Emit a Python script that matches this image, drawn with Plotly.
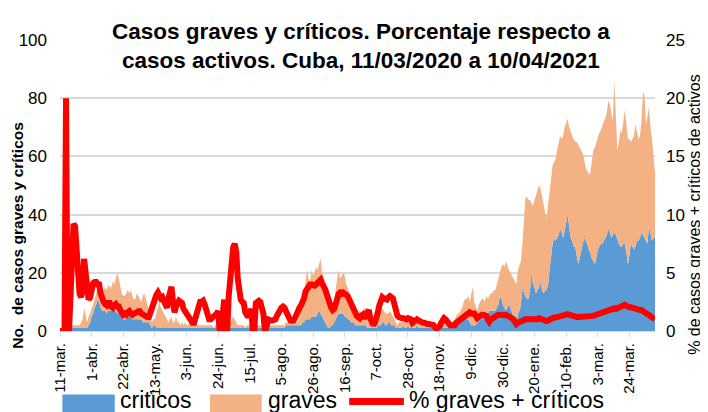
import pandas as pd
import plotly.graph_objects as go

# ---------------- data ----------------
start_date = "2020-03-11"
n_days = 396

criticos = [
    0, 0, 0, 0, 0, 0, 0, 0, 1, 1,
    1, 1, 1, 1, 1, 1, 1, 1, 1, 2,
    3, 5, 6, 8, 9, 11, 10, 8, 7, 7,
    7, 6, 7, 7, 7, 7, 7, 7, 6, 7,
    6, 5, 4, 4, 4, 5, 5, 5, 4, 4,
    4, 4, 4, 4, 4, 3, 3, 3, 3, 3,
    2, 1, 2, 2, 1, 1, 1, 1, 1, 1,
    1, 1, 1, 1, 1, 1, 1, 1, 1, 1,
    1, 1, 1, 1, 1, 1, 1, 1, 1, 1,
    1, 1, 1, 1, 1, 1, 1, 1, 1, 1,
    1, 1, 1, 1, 1, 1, 1, 1, 1, 1,
    1, 1, 1, 1, 1, 1, 1, 1, 1, 1,
    1, 1, 1, 1, 1, 1, 1, 1, 1, 1,
    1, 1, 1, 1, 1, 1, 1, 1, 1, 1,
    1, 1, 1, 1, 1, 1, 1, 1, 1, 1,
    2, 2, 2, 2, 2, 2, 2, 2, 2, 2,
    2, 3, 3, 4, 4, 4, 4, 5, 5, 5,
    5, 6, 7, 6, 5, 4, 3, 2, 1, 1,
    2, 2, 3, 4, 5, 6, 6, 6, 6, 5,
    5, 4, 4, 3, 3, 3, 2, 2, 2, 2,
    2, 2, 2, 2, 1, 1, 1, 1, 1, 1,
    1, 2, 2, 2, 3, 3, 2, 2, 3, 3,
    2, 2, 2, 1, 1, 1, 1, 1, 2, 1,
    1, 2, 1, 1, 1, 1, 1, 2, 1, 1,
    1, 1, 1, 1, 1, 1, 1, 1, 1, 1,
    1, 1, 1, 1, 1, 1, 1, 1, 1, 1,
    1, 1, 2, 2, 2, 3, 3, 4, 5, 5,
    4, 4, 3, 2, 2, 2, 2, 3, 3, 4,
    4, 5, 6, 6, 6, 7, 7, 7, 7, 7,
    8, 9, 12, 11, 9, 8, 7, 8, 9, 8,
    6, 5, 4, 3, 6, 7, 9, 15, 13, 12,
    11, 11, 14, 20, 16, 15, 13, 14, 15, 17,
    14, 13, 14, 14, 16, 21, 25, 30, 32, 31,
    32, 33, 35, 34, 32, 34, 37, 40, 36, 32,
    31, 29, 29, 26, 23, 25, 28, 30, 32, 31,
    30, 28, 27, 25, 24, 23, 25, 28, 29, 30,
    30, 31, 32, 33, 35, 34, 32, 33, 34, 33,
    31, 30, 29, 29, 30, 30, 27, 23, 26, 30,
    29, 28, 29, 31, 31, 32, 34, 33, 32, 31,
    30, 36, 33, 31, 32, 32,
]

graves = [
    0, 0, 0, 1, 1, 0, 0, 0, 1, 1,
    1, 1, 1, 1, 2, 3, 7, 4, 2, 3,
    3, 3, 3, 3, 4, 4, 3, 4, 6, 7,
    8, 8, 9, 8, 8, 10, 9, 11, 14, 11,
    9, 8, 8, 8, 9, 9, 8, 9, 8, 7,
    7, 9, 8, 7, 6, 9, 10, 8, 6, 4,
    3, 2, 2, 2, 5, 7, 9, 7, 6, 5,
    4, 3, 2, 3, 4, 2, 2, 4, 2, 2,
    1, 2, 1, 2, 1, 1, 2, 3, 2, 1,
    2, 1, 1, 1, 1, 1, 1, 1, 1, 1,
    1, 1, 0, 1, 1, 1, 1, 1, 1, 1,
    1, 1, 1, 2, 3, 4, 3, 2, 1, 1,
    1, 1, 1, 0, 1, 1, 1, 1, 1, 1,
    1, 1, 1, 1, 0, 1, 1, 1, 1, 1,
    1, 1, 1, 1, 1, 1, 1, 1, 1, 1,
    1, 1, 1, 1, 1, 1, 1, 1, 1, 3,
    5, 7, 10, 13, 17, 14, 13, 16, 14, 15,
    17, 15, 16, 19, 15, 15, 11, 9, 8, 7,
    5, 5, 7, 10, 13, 15, 12, 13, 14, 14,
    11, 11, 9, 9, 7, 5, 5, 5, 4, 5,
    4, 5, 6, 5, 4, 3, 2, 1, 1, 2,
    3, 3, 4, 5, 5, 4, 4, 4, 3, 4,
    4, 3, 2, 2, 1, 2, 2, 2, 1, 3,
    2, 1, 3, 2, 2, 2, 2, 1, 2, 2,
    1, 1, 1, 1, 1, 1, 1, 1, 1, 1,
    1, 1, 1, 1, 2, 2, 2, 1, 2, 1,
    2, 2, 2, 3, 4, 3, 4, 4, 5, 6,
    7, 8, 7, 11, 13, 8, 6, 4, 6, 6,
    7, 6, 4, 6, 5, 5, 6, 6, 7, 7,
    8, 9, 9, 11, 14, 14, 17, 14, 12, 12,
    13, 13, 13, 13, 15, 16, 15, 15, 25, 34,
    35, 34, 31, 24, 27, 30, 34, 34, 35, 32,
    32, 30, 27, 25, 27, 26, 27, 27, 26, 28,
    30, 32, 32, 32, 35, 36, 35, 33, 34, 36,
    36, 37, 36, 39, 41, 38, 34, 31, 27, 25,
    25, 26, 27, 33, 38, 40, 40, 38, 39, 39,
    41, 41, 41, 42, 44, 44, 43, 39, 52, 38,
    31, 35, 40, 39, 42, 46, 44, 43, 40, 35,
    37, 39, 42, 37, 35, 35, 38, 49, 49, 40,
    44, 41, 37, 35, 28, 22,
]

pct_graves_criticos = [
    0, 0, 0, 0, 20, 0, 0, 3, 9, 9.2,
    9.0, 7.0, 4.5, 3.2, 2.9, 3.5, 6.2, 4.5, 2.9, 2.7,
    2.9, 3.6, 4.1, 4.2, 4.2, 4.0, 4.0, 3.2, 2.7, 2.5,
    2.3, 2.2, 2.4, 2.4, 2.1, 2.0, 2.2, 2.3, 2.1, 2.1,
    1.8, 1.5, 1.4, 1.5, 1.4, 1.6, 1.7, 1.5, 1.4, 1.5,
    1.5, 1.6, 1.7, 1.7, 1.5, 1.4, 1.3, 1.2, 1.2, 1.2,
    1.6, 2.2, 2.5, 2.9, 3.1, 3.3, 3.0, 2.8, 2.9, 2.6,
    2.1, 2.0, 2.8, 3.7, 3.8, 2.5, 1.6, 2.1, 2.5, 2.6,
    2.5, 2.4, 1.9, 1.7, 1.5, 1.3, 1.0, 0.8, 0.7, 0.7,
    1.2, 2.0, 2.3, 2.5, 2.5, 2.6, 2.3, 1.8, 1.1, 1.0,
    1.0, 1.1, 1.3, 1.4, 1.5, 1.7, 0, 0, 1.3, 2.7,
    0, 0, 3.0, 5.0, 6.5, 7.2, 7.5, 6.8, 4.5, 2.8,
    2.7, 2.5, 2.4, 1.6, 1.4, 1.2, 1.5, 1.9, 0, 0,
    2.4, 2.6, 2.6, 2.5, 2.1, 1.5, 0, 0.3, 1.0, 0.9,
    0.9, 0.9, 0.9, 1.0, 1.3, 1.6, 1.8, 2.0, 2.1, 2.0,
    1.7, 1.3, 0.9, 0.9, 0.9, 0.9, 1.1, 1.5, 1.9, 2.0,
    2.2, 2.4, 2.8, 3.4, 3.7, 3.9, 4.0, 4.0, 3.9, 3.9,
    4.0, 4.2, 4.3, 4.4, 4.1, 3.9, 3.6, 3.2, 2.6, 2.2,
    2.0, 1.8, 1.9, 2.3, 2.9, 3.2, 3.3, 3.2, 3.3, 3.1,
    3.1, 3.0, 2.7, 2.3, 2.1, 1.7, 1.4, 1.3, 1.2, 1.1,
    1.3, 1.4, 1.1, 1.3, 1.7, 1.8, 1.1, 0.5, 0.5, 0.7,
    1.0, 1.6, 2.2, 2.6, 2.9, 2.8, 2.7, 2.7, 2.9, 3.0,
    2.9, 2.8, 2.3, 1.5, 1.3, 1.2, 1.1, 1.1, 1.1, 1.0,
    1.0, 1.1, 1.1, 1.0, 0.7, 0.8, 1.0, 1.0, 0.9, 0.8,
    0.8, 0.7, 0.7, 0.6, 0.6, 0.6, 0.6, 0.6, 0.5, 0.3,
    0.2, 0.3, 0.4, 0.7, 0.9, 1.1, 1.0, 0.8, 0.7, 0.5,
    0.5, 0.5, 0.5, 0.7, 0.8, 0.9, 1.0, 1.2, 1.3, 1.4,
    1.5, 1.6, 1.6, 1.5, 1.5, 1.5, 1.3, 1.1, 1.2, 1.4,
    1.4, 1.4, 1.3, 1.3, 1.0, 0.8, 1.0, 1.1, 1.2, 1.3,
    1.4, 1.4, 1.4, 1.35, 1.3, 1.35, 1.4, 1.35, 1.3, 1.25,
    1.1, 1.0, 0.8, 0.6, 0.7, 0.8, 0.85, 0.9, 0.95, 1.0,
    1.0, 1.0, 1.0, 1.0, 1.0, 0.95, 0.95, 1.0, 1.1, 1.05,
    1.0, 0.9, 0.8, 0.85, 0.9, 1.0, 1.1, 1.1, 1.15, 1.15,
    1.2, 1.25, 1.3, 1.35, 1.4, 1.45, 1.5, 1.45, 1.4, 1.35,
    1.25, 1.2, 1.2, 1.2, 1.2, 1.2, 1.2, 1.2, 1.2, 1.25,
    1.25, 1.3, 1.3, 1.3, 1.3, 1.35, 1.4, 1.4, 1.4, 1.45,
    1.5, 1.55, 1.6, 1.7, 1.75, 1.8, 1.85, 1.95, 1.95, 1.9,
    1.95, 2.0, 2.05, 2.15, 2.2, 2.25, 2.15, 2.05, 2.05, 2.05,
    2.0, 1.95, 1.9, 1.8, 1.75, 1.8, 1.8, 1.7, 1.6, 1.55,
    1.5, 1.4, 1.3, 1.2, 1.1, 1.0,
]

tick_dates = ["2020-03-11", "2020-04-01", "2020-04-22", "2020-05-13", "2020-06-03",
              "2020-06-24", "2020-07-15", "2020-08-05", "2020-08-26", "2020-09-16",
              "2020-10-07", "2020-10-28", "2020-11-18", "2020-12-09", "2020-12-30",
              "2021-01-20", "2021-02-10", "2021-03-03", "2021-03-24"]
tick_labels = ["11-mar.", "1-abr.", "22-abr.", "13-may.", "3-jun.", "24-jun.", "15-jul.",
               "5-ago.", "26-ago.", "16-sep.", "7-oct.", "28-oct.", "18-nov.", "9-dic.",
               "30-dic.", "20-ene.", "10-feb.", "3-mar.", "24-mar."]

series_names = ["criticos", "graves", "% graves + críticos"]
series_colors = ["#5B9BD5", "#F4B183", "#FF0000"]

fechas = pd.date_range(start_date, periods=n_days, freq="D")

FONT = "Liberation Sans Narrow, Arial Narrow, Liberation Sans, sans-serif"

fig = go.Figure()
fig.add_trace(go.Scatter(
    x=fechas, y=criticos, name=series_names[0], stackgroup="one", mode="lines",
    line=dict(width=0, color=series_colors[0]), fillcolor=series_colors[0], showlegend=False,
))
fig.add_trace(go.Scatter(
    x=fechas, y=graves, name=series_names[1], stackgroup="one", mode="lines",
    line=dict(width=0, color=series_colors[1]), fillcolor=series_colors[1], showlegend=False,
))
fig.add_trace(go.Scatter(
    x=fechas, y=pct_graves_criticos, name=series_names[2], mode="lines",
    line=dict(width=6, color=series_colors[2]), yaxis="y2", showlegend=False,
))

# Excel-like legend below the chart (wide colour blocks + text)
legend_shapes = [
    dict(type="rect", xref="paper", yref="paper", x0=0.004, x1=0.092, y0=-0.285, y1=-0.218,
         fillcolor=series_colors[0], line=dict(width=0)),
    dict(type="rect", xref="paper", yref="paper", x0=0.252, x1=0.339, y0=-0.285, y1=-0.218,
         fillcolor=series_colors[1], line=dict(width=0)),
    dict(type="line", xref="paper", yref="paper", x0=0.486, x1=0.578, y0=-0.242, y1=-0.242,
         line=dict(color=series_colors[2], width=7)),
]
legend_texts = [
    dict(text=series_names[0], x=0.097, y=-0.238),
    dict(text=series_names[1], x=0.347, y=-0.238),
    dict(text=series_names[2], x=0.583, y=-0.238),
]
legend_annots = [
    dict(text=t["text"], xref="paper", yref="paper", x=t["x"], y=t["y"], xanchor="left",
         yanchor="middle", showarrow=False, font=dict(family=FONT, size=23, color="#000000"))
    for t in legend_texts
]

# The page adds an 8 px body margin, so the figure is 8 px smaller than the window.
fig.update_layout(
    width=700, height=404,
    margin=dict(l=52, r=53, t=32, b=81, autoexpand=False),
    paper_bgcolor="white", plot_bgcolor="white",
    font=dict(family=FONT, color="#000000"),
    showlegend=False,
    xaxis=dict(
        range=[fechas[0], fechas[-1]],
        tickvals=tick_dates, ticktext=tick_labels, tickangle=-90,
        tickfont=dict(family=FONT, size=15, color="#000000"),
        ticks="outside", ticklen=5, tickcolor="#d9d9d9",
        showline=True, linecolor="#d9d9d9", linewidth=1,
        showgrid=False, zeroline=False, automargin=False,
    ),
    yaxis=dict(
        range=[0, 100], dtick=20, tickfont=dict(family=FONT, size=17, color="#000000"),
        showgrid=True, gridcolor="#d9d9d9", gridwidth=2,
        zeroline=False, showline=False, ticks="", automargin=False,
        ticklabelstandoff=12,
    ),
    yaxis2=dict(
        range=[0, 25], dtick=5, overlaying="y", side="right",
        tickfont=dict(family=FONT, size=17, color="#000000"),
        showgrid=False, zeroline=False, showline=False, ticks="", automargin=False,
        ticklabelstandoff=10,
    ),
    shapes=legend_shapes,
    annotations=[
        dict(text="<b>Casos graves y críticos. Porcentaje respecto a<br>casos activos. Cuba, 11/03/2020 a 10/04/2021</b>",
             xref="paper", yref="paper", x=0.506, y=0.98, xanchor="center", yanchor="middle",
             showarrow=False, font=dict(family=FONT, size=22.5, color="#000000")),
        dict(text="<b>No.  de casos graves y críticos</b>", textangle=-90,
             xref="paper", yref="paper", x=-0.071, y=0.33, xanchor="center", yanchor="middle",
             showarrow=False, font=dict(family=FONT, size=15.5, color="#000000")),
        dict(text="% de casos graves + críticos de activos", textangle=-90,
             xref="paper", yref="paper", x=1.066, y=0.40, xanchor="center", yanchor="middle",
             showarrow=False, font=dict(family=FONT, size=16, color="#000000")),
    ] + legend_annots,
)

fig.write_html("out.html")
